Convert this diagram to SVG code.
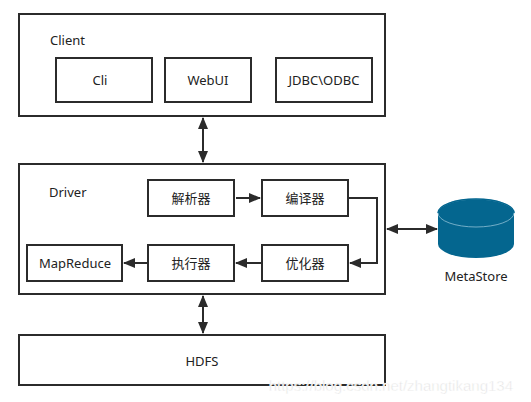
<svg xmlns="http://www.w3.org/2000/svg" width="531" height="402" viewBox="0 0 531 402">
<style>
.box{fill:#fff;stroke:#2b2b2b;stroke-width:2}
.t{font-family:"Noto Sans","Noto Sans CJK SC",sans-serif;font-size:13px;fill:#222}
.c{text-anchor:middle}
.ln{fill:none;stroke:#2b2b2b;stroke-width:2}
.wm{font-family:"Liberation Sans",Arial,sans-serif;font-size:15px;fill:#e2e2e2;text-anchor:end}
</style>
<defs>
<marker id="ah" markerUnits="userSpaceOnUse" markerWidth="12" markerHeight="10" refX="11" refY="5" orient="auto-start-reverse" viewBox="0 0 12 10">
<path d="M0,0 L12,5 L0,10 z" fill="#2b2b2b"/>
</marker>
</defs>
<rect width="531" height="402" fill="#fff"/>
<g id="client">
<rect class="box" x="19" y="14" width="366" height="102"/>
<text class="t" x="50" y="45">Client</text>
</g>
<g id="cli"><rect class="box" x="56" y="58" width="96" height="44"/><text class="t c" x="100" y="85">Cli</text></g>
<g id="webui"><rect class="box" x="165" y="58" width="86" height="44"/><text class="t c" x="208" y="85">WebUI</text></g>
<g id="jdbc"><rect class="box" x="276" y="58" width="96" height="44"/><text class="t c" x="324" y="85">JDBC\ODBC</text></g>
<g id="driver">
<rect class="box" x="19" y="164" width="366" height="130"/>
<text class="t" x="49" y="197">Driver</text>
</g>
<g id="parser"><rect class="box" x="148" y="180" width="86" height="36"/><text class="t c" x="191" y="203">解析器</text></g>
<g id="compiler"><rect class="box" x="262" y="180" width="86" height="36"/><text class="t c" x="305" y="203">编译器</text></g>
<g id="optimizer"><rect class="box" x="262" y="245" width="86" height="36"/><text class="t c" x="305" y="268">优化器</text></g>
<g id="executor"><rect class="box" x="148" y="245" width="86" height="36"/><text class="t c" x="191" y="268">执行器</text></g>
<g id="mapreduce"><rect class="box" x="27" y="245" width="95" height="36"/><text class="t c" x="75" y="268">MapReduce</text></g>
<g id="hdfs">
<rect class="box" x="19" y="335" width="366" height="50"/>
<text class="t c" x="202" y="366">HDFS</text>
</g>
<g id="metastore">
<path d="M438,213 L438,244 A38,14 0 0 0 514,244 L514,213 Z" fill="#04668f"/>
<ellipse cx="476" cy="213" rx="38" ry="14" fill="#04668f" stroke="#8fc0d6" stroke-width="0.8"/>
<path d="M438,213 A38,14 0 0 1 514,213" fill="none" stroke="#04668f" stroke-width="1.5"/>
<text class="t c" x="476" y="281">MetaStore</text>
</g>
<g id="connectors">
<line class="ln" x1="203" y1="118" x2="203" y2="162" marker-start="url(#ah)" marker-end="url(#ah)"/>
<line class="ln" x1="203" y1="296" x2="203" y2="333" marker-start="url(#ah)" marker-end="url(#ah)"/>
<line class="ln" x1="236" y1="198" x2="260" y2="198" marker-end="url(#ah)"/>
<polyline class="ln" points="348,198 377,198 377,263 350,263" marker-end="url(#ah)"/>
<line class="ln" x1="262" y1="263" x2="236" y2="263" marker-end="url(#ah)"/>
<line class="ln" x1="148" y1="263" x2="124" y2="263" marker-end="url(#ah)"/>
<line class="ln" x1="387" y1="229" x2="437" y2="229" marker-start="url(#ah)" marker-end="url(#ah)"/>
</g>
<text class="wm" x="513" y="391" stroke="#fff" stroke-width="0.5">https://blog.csdn.net/zhangtikang134</text>
</svg>
